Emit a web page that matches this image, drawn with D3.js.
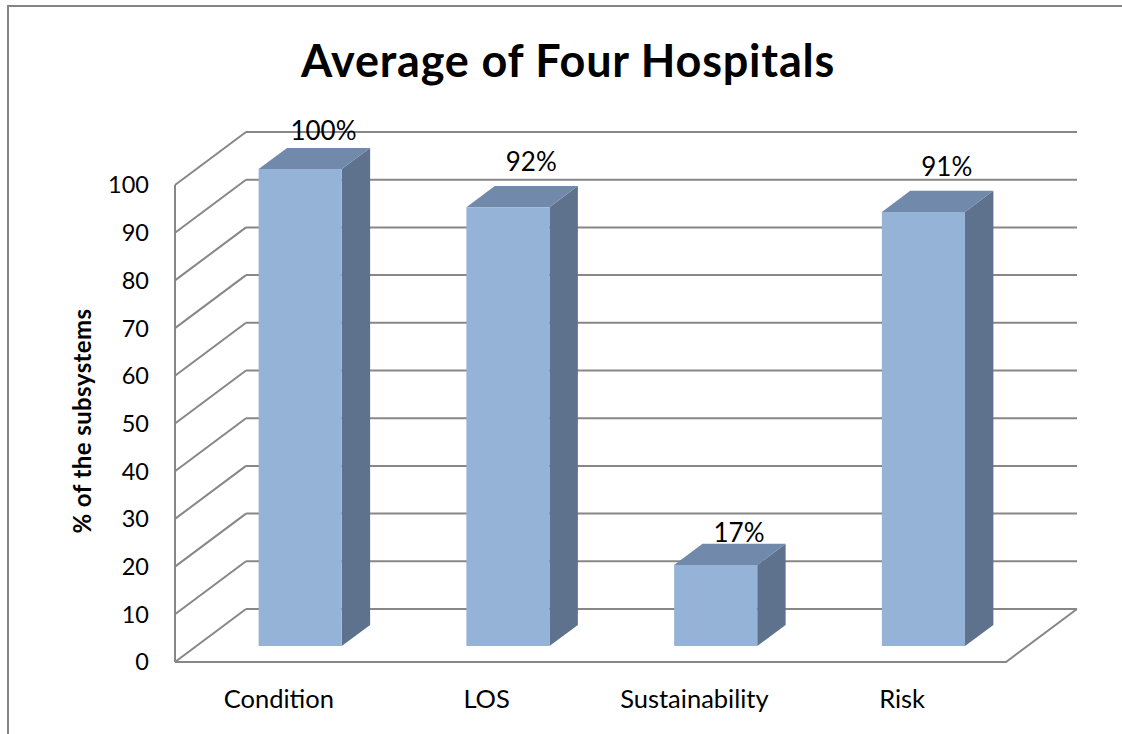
<!DOCTYPE html>
<html>
<head>
<meta charset="utf-8">
<script src="https://cdn.jsdelivr.net/npm/d3@7"></script>
<style>
  html, body { margin: 0; padding: 0; background: #fff; }
  svg { display: block; }
  text { font-family: Lato, "Open Sans", sans-serif; fill: #000; }
</style>
</head>
<body>
<svg id="chart" width="1122" height="734"></svg>
<script>
// Chart data
const categories = ["Condition", "LOS", "Sustainability", "Risk"];
const values = [100, 92, 17, 91];
const yTicks = [0, 10, 20, 30, 40, 50, 60, 70, 80, 90, 100];
const title = "Average of Four Hospitals";
const yTitle = "% of the subsystems";

const W = 1122, H = 734;
const svg = d3.select("#chart");

// Plot box (front plane) and depth offset of the 3-D walls
const plot = { left: 175, right: 1006, bottom: 662, top: 185 };
const depth = { dx: 71, dy: -53 };
const barDepth = [0.3, 0.7];   // bars sit in the middle of the floor depth
const barFrac = 0.4;           // bar width as a fraction of the category step
const labelTopLimit = 121;     // value labels stay inside the plot area

const x = d3.scaleBand().domain(categories).range([plot.left, plot.right]).padding(0);
const y = d3.scaleLinear().domain([0, 100]).range([plot.bottom, plot.top]);

// project a point (front-plane x, value, depth fraction) to screen coordinates
const P = (px, v, d) => [px + d * depth.dx, y(v) + d * depth.dy];

const gridColor = "#878787";

// outer chart border
svg.append("rect")
  .attr("x", 8).attr("y", 6)
  .attr("width", W + 20).attr("height", H + 20)
  .attr("fill", "none").attr("stroke", "#848484").attr("stroke-width", 2);

// title
svg.append("text")
  .attr("x", 568).attr("y", 77)
  .attr("text-anchor", "middle")
  .style("font-weight", "bold").style("font-size", "45px")
  .style("letter-spacing", "0.8px")
  .text(title);

const grid = svg.append("g").attr("stroke", gridColor).attr("stroke-width", 2).attr("fill", "none");
const line = d3.line();

// back wall gridlines and side wall gridlines
yTicks.forEach(t => {
  grid.append("path").attr("d", line([P(plot.left, t, 1), P(plot.right, t, 1)]));
  grid.append("path").attr("d", line([P(plot.left, t, 0), P(plot.left, t, 1)]));
});
// left front edge of the side wall
grid.append("path").attr("d", line([P(plot.left, 0, 0), P(plot.left, 100, 0)]));
// floor front edge and right edge
grid.append("path").attr("d", line([P(plot.left, 0, 0), P(plot.right, 0, 0), P(plot.right, 0, 1)]));

// y tick labels
svg.append("g").selectAll("text").data(yTicks).join("text")
  .attr("x", 149).attr("y", d => y(d))
  .attr("dy", "0.36em")
  .attr("text-anchor", "end")
  .style("font-size", "23.5px")
  .text(d => d);

// y axis title
svg.append("text")
  .attr("transform", `translate(91,${421}) rotate(-90)`)
  .attr("text-anchor", "middle")
  .style("font-weight", "bold").style("font-size", "24px")
  .style("letter-spacing", "0.4px")
  .text(yTitle);

// bars
const colors = { front: "#95b3d7", side: "#5e718d", top: "#7189ab" };
const bars = svg.append("g");
const labels = svg.append("g");
categories.forEach((c, i) => {
  const v = values[i];
  const cx = x(c) + x.bandwidth() / 2;
  const w = x.step() * barFrac;
  const xl = cx - w / 2, xr = cx + w / 2;
  const [d0, d1] = barDepth;
  const g = bars.append("g");
  // side face
  g.append("path").attr("fill", colors.side)
    .attr("d", line([P(xr, 0, d0), P(xr, v, d0), P(xr, v, d1), P(xr, 0, d1)]) + "Z");
  // top face
  g.append("path").attr("fill", colors.top)
    .attr("d", line([P(xl, v, d0), P(xr, v, d0), P(xr, v, d1), P(xl, v, d1)]) + "Z");
  // front face
  g.append("path").attr("fill", colors.front)
    .attr("d", line([P(xl, 0, d0), P(xl, v, d0), P(xr, v, d0), P(xr, 0, d0)]) + "Z");
  // value label above the bar, kept below the top of the plot area
  const top = P(cx, v, d1)[1];
  const ly = Math.max(top - 8 - 0.176 * v, labelTopLimit + 10);
  labels.append("text")
    .attr("x", P(cx, v, 0.6)[0] + 2).attr("y", ly)
    .attr("dy", "0.36em")
    .attr("text-anchor", "middle")
    .style("font-size", "26px")
    .text(v + "%");
});

// category labels
svg.append("g").selectAll("text").data(categories).join("text")
  .attr("x", d => x(d) + x.bandwidth() / 2)
  .attr("y", 699).attr("dy", "0.36em")
  .attr("text-anchor", "middle")
  .style("font-size", "25.5px")
  .text(d => d);
</script>
</body>
</html>
